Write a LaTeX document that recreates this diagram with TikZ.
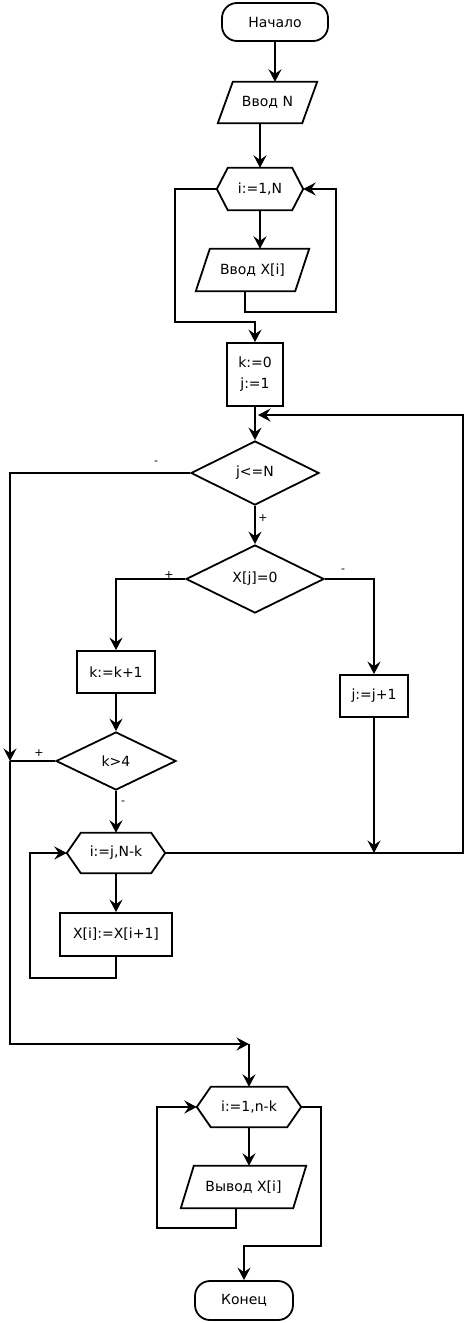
\documentclass[tikz,border=0pt]{standalone}
\usepackage{fontspec}
\setmainfont{DejaVu Sans}
\usetikzlibrary{arrows.meta,shapes.geometric,calc}
\newcommand\hexshape[2]{\draw[line] (#1.west) -- ([xshift=#2]#1.north west) -- ([xshift=-#2]#1.north east) -- (#1.east) -- ([xshift=-#2]#1.south east) -- ([xshift=#2]#1.south west) -- cycle;}
\newcommand\parashape[2]{\draw[line] ([xshift=#2]#1.north west) -- (#1.north east) -- ([xshift=-#2]#1.south east) -- (#1.south west) -- cycle;}
\begin{document}
\begin{tikzpicture}[x=1pt,y=-1pt,
  line/.style={line width=1.8pt, line join=miter},
  arr/.style={line, -{Stealth[length=12.5pt,width=13pt,inset=4.5pt]}},
  plain/.style={inner sep=0pt, font=\fontsize{14}{21}\selectfont, align=center},
  box/.style={plain, draw, line width=1.8pt},
  lbl/.style={font=\fontsize{11}{12}\selectfont, inner sep=0pt}]
\useasboundingbox (0,0) rectangle (467,1323);

\node[box, rounded corners=15pt, minimum width=106pt, minimum height=38pt] (start) at (275,22) {Начало};
\node[plain, minimum width=99pt, minimum height=41pt] (inN) at (267.5,102.5) {Ввод N}; \parashape{inN}{15}
\node[plain, minimum width=86pt, minimum height=42pt] (h1) at (260,189) {i:=1,N}; \hexshape{h1}{11}
\node[plain, minimum width=113pt, minimum height=42pt] (inX) at (252.5,270) {Ввод X[i]}; \parashape{inX}{14}
\node[box, minimum width=56pt, minimum height=63pt] (init) at (255,374.5) {k:=0\\j:=1};
\node[box, diamond, aspect=2, minimum width=128pt, minimum height=64pt] (d1) at (255,473) {j<=N};
\node[box, diamond, aspect=2, minimum width=138pt, minimum height=68pt] (d2) at (255,579) {X[j]=0};
\node[box, minimum width=78pt, minimum height=42pt] (kinc) at (116,672) {k:=k+1};
\node[box, minimum width=68pt, minimum height=42pt] (jinc) at (374,696) {j:=j+1};
\node[box, diamond, aspect=2, minimum width=120pt, minimum height=58pt] (d3) at (116,761) {k>4};
\node[plain, minimum width=98pt, minimum height=40pt] (h2) at (116,853) {i:=j,N-k}; \hexshape{h2}{14}
\node[box, minimum width=112pt, minimum height=43pt] (shift) at (116,934.5) {X[i]:=X[i+1]};
\node[plain, minimum width=104pt, minimum height=40pt] (h3) at (249,1107) {i:=1,n-k}; \hexshape{h3}{14}
\node[plain, minimum width=125pt, minimum height=42pt] (outX) at (243.5,1187) {Вывод X[i]}; \parashape{outX}{13}
\node[box, rounded corners=15pt, minimum width=98pt, minimum height=39pt] (end) at (244,1300.5) {Конец};

\coordinate (jn1) at (10,761);
\coordinate (jn2) at (249,1044);
\coordinate (jn3) at (jinc.south |- h2.east);
\coordinate (rt) at (463,415);
\coordinate (jn4) at (258,415);

\draw[arr] (start.south) -- (start.south |- inN.north);
\draw[arr] (h1.north |- inN.south) -- (h1.north);
\draw[arr] (h1.south) -- (h1.south |- inX.north);
\draw[arr] ([xshift=-7.5pt]inX.south) -- ++(0,21) -| ([xshift=33pt]h1.east) -- (h1.east);
\draw[arr] (h1.west) -- ++(-42,0) -- ++(0,133) -| (init.north);
\draw[arr] (init.south) -- (d1.north);
\draw[arr] (d1.south) -- (d2.north);
\draw[arr] (d1.west) -| (jn1);
\draw[arr] (d2.west) -| (kinc.north);
\draw[arr] (d2.east) -| (jinc.north);
\draw[arr] (kinc.south) -- (d3.north);
\draw[line] (d3.west) -- (jn1);
\draw[arr] (jn1) |- (jn2);
\draw[arr] (jn2) -- (h3.north);
\draw[arr] (d3.south) -- (h2.north);
\draw[arr] (h2.south) -- (shift.north);
\draw[arr] (shift.south) -- ++(0,21) -| ([xshift=-37pt]h2.west) -- (h2.west);
\draw[arr] (jinc.south) -- (jn3);
\draw[arr] (h2.east) -| (rt) -- (jn4);
\draw[arr] (h3.south) -- (h3.south |- outX.north);
\draw[arr] ([xshift=-7.5pt]outX.south) -- ++(0,20) -| ([xshift=-40pt]h3.west) -- (h3.west);
\draw[arr] (h3.east) -- ++(20,0) -- ++(0,139) -| (end.north);

\node[lbl] (lm1) at (156,463) {-};
\node[lbl] (lp1) at (263,518) {+};
\node[lbl] (lp2) at (169,575) {+};
\node[lbl] (lm2) at (343,571) {-};
\node[lbl] (lp3) at (39,753) {+};
\node[lbl] (lm3) at (123,803) {-};
\end{tikzpicture}
\end{document}
